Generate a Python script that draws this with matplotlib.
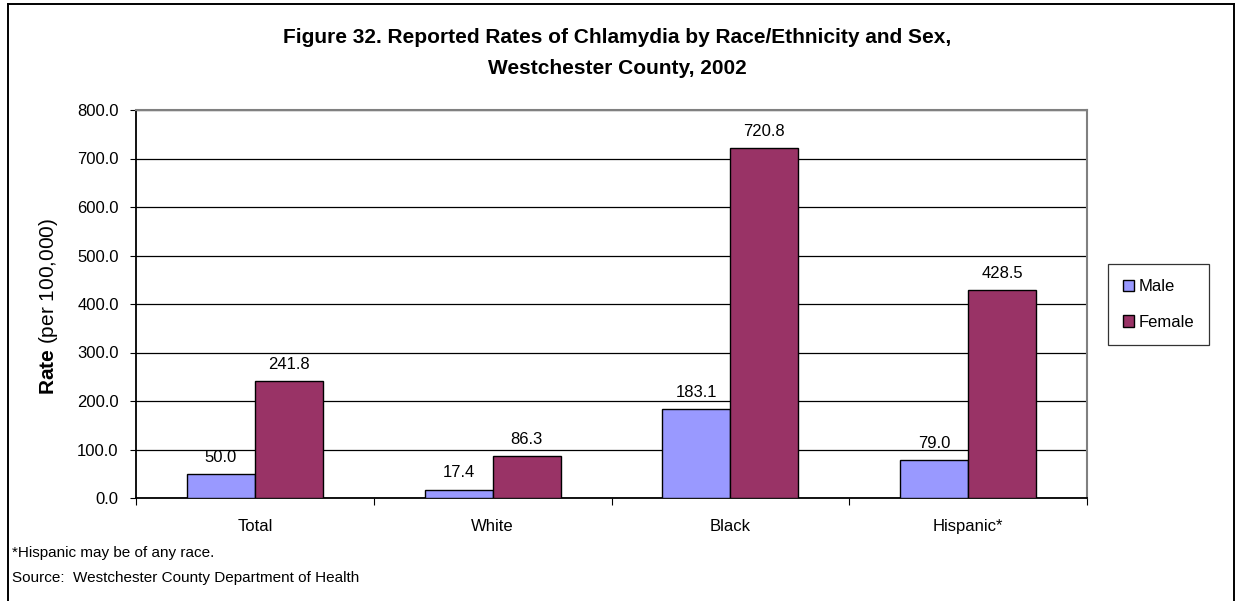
import matplotlib
matplotlib.use('Agg')
import matplotlib.pyplot as plt
import numpy as np

categories = ['Total', 'White', 'Black', 'Hispanic*']
male = [50.0, 17.4, 183.1, 79.0]
female = [241.8, 86.3, 720.8, 428.5]
yticks = [0, 100, 200, 300, 400, 500, 600, 700, 800]

plt.rcParams['font.family'] = ['Liberation Sans', 'DejaVu Sans']
plt.rcParams['mathtext.fontset'] = 'custom'
plt.rcParams['mathtext.rm'] = 'Liberation Sans'
plt.rcParams['mathtext.bf'] = 'Liberation Sans:bold'

W, H = 1235, 601
fig = plt.figure(figsize=(W / 100, H / 100), dpi=100)
# plot area in pixels: x 136..1087, y 110..498
L, R, T, B = 136, 1087, 110, 498
ax = fig.add_axes([L / W, 1 - B / H, (R - L) / W, (B - T) / H])

x = np.arange(len(categories))
bw = 0.286
b1 = ax.bar(x - bw / 2, male, bw, color='#9999FF', edgecolor='black', linewidth=1.0,
            label='Male', zorder=3)
b2 = ax.bar(x + bw / 2, female, bw, color='#993366', edgecolor='black', linewidth=1.0,
            label='Female', zorder=3)

for bars, vals in ((b1, male), (b2, female)):
    for r, v in zip(bars, vals):
        ax.annotate('%.1f' % v, (r.get_x() + r.get_width() / 2, v), xytext=(0, 12),
                    textcoords='offset points', ha='center', va='center', fontsize=12)

ax.set_xlim(-0.5, len(categories) - 0.5)
ax.set_ylim(0, 800)
ax.set_yticks(yticks)
ax.set_yticklabels(['%.1f' % t for t in yticks], fontsize=12)
ax.yaxis.grid(True, color='black', linewidth=0.9, zorder=0)
ax.set_axisbelow(True)

# category separators on the x axis
ax.set_xticks(np.arange(-0.5, len(categories), 1.0))
ax.set_xticklabels([])
ax.set_xticks(x, minor=True)
ax.set_xticklabels(categories, minor=True, fontsize=12)
ax.tick_params(axis='x', which='minor', length=0, pad=15)
ax.tick_params(axis='x', which='major', length=5, direction='out')
ax.tick_params(axis='y', length=4.5, direction='out', pad=8)

ax.spines['top'].set_color('#808080')
ax.spines['right'].set_color('#808080')
ax.spines['top'].set_linewidth(1.5)
ax.spines['right'].set_linewidth(1.5)
ax.spines['left'].set_color('black')
ax.spines['bottom'].set_color('black')
ax.spines['left'].set_linewidth(1.3)
ax.spines['bottom'].set_linewidth(1.3)

ax.set_ylabel(r'$\mathbf{Rate}$ (per 100,000)', fontsize=15)
ax.yaxis.set_label_coords((60 - L) / (R - L), 0.5 + ((B + T) / 2 - 306) / (B - T))

leg = ax.legend(loc='upper left', bbox_to_anchor=((1108 - L) / (R - L), 1 - (264 - T) / (B - T)),
                frameon=True, fancybox=False, edgecolor='black', fontsize=12,
                handlelength=0.65, handleheight=0.65, handletextpad=0.3,
                labelspacing=1.25, borderpad=0.9, borderaxespad=0)
leg.get_frame().set_linewidth(0.9)

fig.text(0.5, 1 - 53 / H, 'Figure 32. Reported Rates of Chlamydia by Race/Ethnicity and Sex,\nWestchester County, 2002',
         ha='center', va='center', fontsize=15, fontweight='bold', linespacing=1.85)

fig.text(12 / W, 1 - 553 / H, '*Hispanic may be of any race.', ha='left', va='center', fontsize=11)
fig.text(12 / W, 1 - 578 / H, 'Source:  Westchester County Department of Health', ha='left', va='center', fontsize=11)

# outer chart border
lw = 1.4
fig.add_artist(plt.Line2D([8 / W, 8 / W], [0, 1 - 4 / H], color='black', linewidth=lw, transform=fig.transFigure))
fig.add_artist(plt.Line2D([8 / W, 1234 / W], [1 - 4 / H, 1 - 4 / H], color='black', linewidth=lw, transform=fig.transFigure))
fig.add_artist(plt.Line2D([1234 / W, 1234 / W], [0, 1 - 4 / H], color='black', linewidth=lw, transform=fig.transFigure))

fig.savefig('out.png', dpi=100)
